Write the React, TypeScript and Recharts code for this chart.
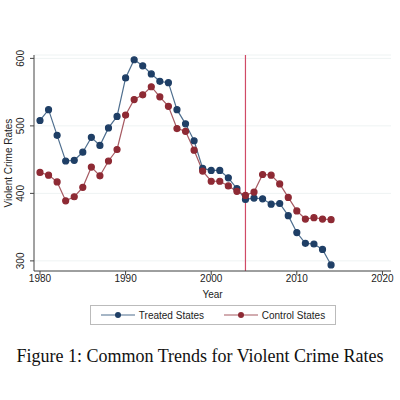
import React from "react";
import { LineChart, Line, XAxis, YAxis, CartesianGrid, ReferenceLine } from "recharts";

const years = [1980,1981,1982,1983,1984,1985,1986,1987,1988,1989,1990,1991,1992,1993,1994,1995,1996,1997,1998,1999,2000,2001,2002,2003,2004,2005,2006,2007,2008,2009,2010,2011,2012,2013,2014];
const treated = [508,524,486,448,449,461,483,471,497,514,571,598,589,577,566,564,524,503,478,437,434,434,423,407,391,393,392,384,385,367,342,326,325,317,294];
const control = [431,427,417,389,395,409,439,426,448,465,516,539,546,558,543,529,496,492,464,433,418,418,411,403,397,402,428,427,414,394,374,362,364,362,361];
const xTicks = [1980,1990,2000,2010,2020];
const yTicks = [300,400,500,600];

const data = years.map((y, i) => ({ year: y, treated: treated[i], control: control[i] }));
const NAVY = "#1f3f66";
const RED = "#8e2a34";
const font = "Liberation Sans, Arial, sans-serif";

const YTick = (p: any) => (
  <text x={p.x - 4} y={p.y} transform={`rotate(-90 ${p.x - 4} ${p.y})`} textAnchor="middle" fontSize={10} fill="#222" fontFamily={font}>{p.payload.value}</text>
);

export default function App() {
  return (
    <div style={{ position: "absolute", left: 0, top: 0, width: 400, height: 400, background: "#fff" }}>
      <LineChart width={400} height={300} data={data} margin={{ top: 55, right: 9, left: 0, bottom: 0 }}>
        <CartesianGrid horizontal vertical={false} stroke="#eef3f3" />
        <XAxis dataKey="year" type="number" domain={[1979.3, 2021]} ticks={xTicks} height={29} tickSize={4} stroke="#444"
          tick={{ fontSize: 10, fill: "#222", fontFamily: font }} tickMargin={0}
          label={{ value: "Year", position: "insideBottom", offset: 2, fontSize: 10, fill: "#222", fontFamily: font }} />
        <YAxis type="number" domain={[285, 605]} ticks={yTicks} width={34} tickSize={4} stroke="#444" tick={<YTick />}
          label={{ value: "Violent Crime Rates", angle: -90, position: "insideLeft", offset: 8, fontSize: 10, fill: "#222", fontFamily: font, style: { textAnchor: "middle" } }} />
        <ReferenceLine x={2004} stroke="#d04a66" strokeWidth={1.2} style={{ stroke: "#d04a66" }} />
        <Line dataKey="treated" stroke="#4e6e8e" strokeWidth={1.2} dot={{ r: 3, fill: NAVY, stroke: NAVY }} isAnimationActive={false} />
        <Line dataKey="control" stroke="#a65a62" strokeWidth={1.2} dot={{ r: 3, fill: RED, stroke: RED }} isAnimationActive={false} />
      </LineChart>
      <div style={{ position: "absolute", left: 90, top: 305, width: 244, height: 18, border: "1px solid #bbb", display: "flex", alignItems: "center", justifyContent: "space-around", fontFamily: font, fontSize: 10, color: "#222" }}>
        {[{ c: NAVY, l: "#4e6e8e", t: "Treated States" }, { c: RED, l: "#a65a62", t: "Control States" }].map((s) => (
          <span key={s.t} style={{ display: "flex", alignItems: "center" }}>
            <svg width={34} height={8}><line x1={0} y1={4} x2={34} y2={4} stroke={s.l} strokeWidth={1.2} /><circle cx={17} cy={4} r={3} fill={s.c} /></svg>
            <span style={{ marginLeft: 4 }}>{s.t}</span>
          </span>
        ))}
      </div>
      <div style={{ position: "absolute", left: 0, top: 346, width: 400, textAlign: "center", fontFamily: "Liberation Serif, DejaVu Serif, serif", fontSize: 18, color: "#111" }}>
        Figure 1: Common Trends for Violent Crime Rates
      </div>
    </div>
  );
}
